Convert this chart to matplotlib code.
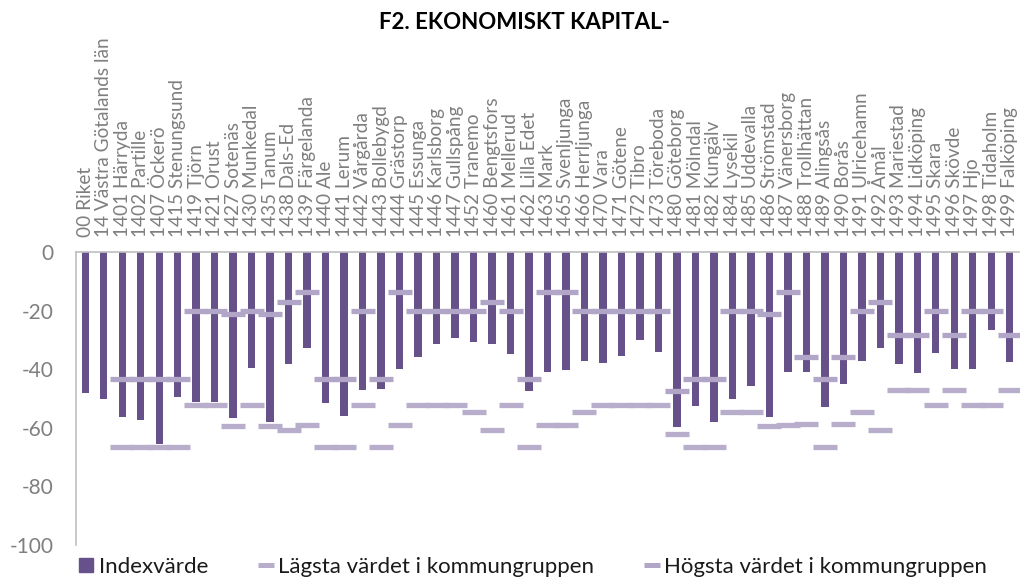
import matplotlib
matplotlib.use('Agg')
import matplotlib.pyplot as plt
from matplotlib.lines import Line2D
import numpy as np

plt.rcParams['font.family'] = ['Lato', 'DejaVu Sans']
plt.rcParams['axes.unicode_minus'] = False

kommuner = ['00 Riket', '14 Västra Götalands län', '1401 Härryda', '1402 Partille', '1407 Öckerö',
            '1415 Stenungsund', '1419 Tjörn', '1421 Orust', '1427 Sotenäs', '1430 Munkedal',
            '1435 Tanum', '1438 Dals-Ed', '1439 Färgelanda', '1440 Ale', '1441 Lerum',
            '1442 Vårgårda', '1443 Bollebygd', '1444 Grästorp', '1445 Essunga', '1446 Karlsborg',
            '1447 Gullspång', '1452 Tranemo', '1460 Bengtsfors', '1461 Mellerud', '1462 Lilla Edet',
            '1463 Mark', '1465 Svenljunga', '1466 Herrljunga', '1470 Vara', '1471 Götene',
            '1472 Tibro', '1473 Töreboda', '1480 Göteborg', '1481 Mölndal', '1482 Kungälv',
            '1484 Lysekil', '1485 Uddevalla', '1486 Strömstad', '1487 Vänersborg', '1488 Trollhättan',
            '1489 Alingsås', '1490 Borås', '1491 Ulricehamn', '1492 Åmål', '1493 Mariestad',
            '1494 Lidköping', '1495 Skara', '1496 Skövde', '1497 Hjo', '1498 Tidaholm',
            '1499 Falköping']

indexvarde = [-48, -50.2, -56.4, -57.2, -65.6, -49.4, -51.3, -51.3, -56.6, -39.7,
              -58.1, -38.2, -32.8, -51.5, -56, -47.2, -46.8, -39.8, -35.8, -31.4,
              -29.4, -30.7, -31.3, -34.8, -47.4, -41, -40.4, -37.1, -38, -35.6,
              -30.2, -34.1, -59.8, -52.4, -58, -50, -45.7, -56.2, -40.9, -40.9,
              -52.8, -44.9, -37.1, -32.9, -38.3, -41.3, -34.4, -40, -40.1, -26.6,
              -37.5]

lagsta = [np.nan, np.nan, -66.6, -66.6, -66.6, -66.6, -52.2, -52.2, -59.4, -52.2,
          -59.4, -60.7, -59.1, -66.6, -66.6, -52.2, -66.6, -59.1, -52.2, -52.2,
          -52.2, -54.7, -60.7, -52.2, -66.6, -59.1, -59.1, -54.7, -52.2, -52.2,
          -52.2, -52.2, -62, -66.6, -66.6, -54.7, -54.7, -59.4, -59.1, -58.8,
          -66.6, -58.8, -54.7, -60.7, -47.2, -47.2, -52.2, -47.2, -52.2, -52.2,
          -47.2]

hogsta = [np.nan, np.nan, -43.4, -43.4, -43.4, -43.4, -20.1, -20.1, -21.2, -20.1,
          -21.2, -16.9, -13.5, -43.4, -43.4, -20.1, -43.4, -13.5, -20.1, -20.1,
          -20.1, -20.1, -16.9, -20.1, -43.4, -13.5, -13.5, -20.1, -20.1, -20.1,
          -20.1, -20.1, -47.6, -43.4, -43.4, -20.1, -20.1, -21.2, -13.5, -35.8,
          -43.4, -35.8, -20.1, -16.9, -28.2, -28.2, -20.1, -28.2, -20.1, -20.1,
          -28.2]

bar_color = '#67518a'
low_color = '#b8aecb'
high_color = '#b2a6c8'
grey_text = '#7f7f7f'

fig = plt.figure(figsize=(10.21, 5.78), dpi=100)
ax = fig.add_axes([76 / 1021, 1 - 545 / 578, 943 / 1021, 293 / 578])

x = np.arange(len(kommuner))
ax.bar(x, indexvarde, width=0.4, color=bar_color, zorder=2)
ax.plot(x, lagsta, linestyle='none', marker='_', markersize=17, markeredgewidth=3.8,
        color=low_color, zorder=3)
ax.plot(x, hogsta, linestyle='none', marker='_', markersize=17, markeredgewidth=3.8,
        color=high_color, zorder=3)

ax.set_xlim(-0.5, len(kommuner) - 0.5)
ax.set_ylim(-100, 0)
ax.set_yticks(range(-100, 1, 20))
ax.tick_params(axis='y', length=0, labelsize=15, labelcolor=grey_text, pad=16)

ax.xaxis.tick_top()
ax.set_xticks(x)
ax.set_xticklabels(kommuner, rotation=90, fontsize=13.7, color=grey_text)
ax.tick_params(axis='x', length=0, pad=11)

for side in ['right', 'bottom']:
    ax.spines[side].set_visible(False)
for side in ['left', 'top']:
    ax.spines[side].set_color('#bfbfbf')
    ax.spines[side].set_linewidth(1.2)

fig.text(524 / 1021, 0.961, 'F2. EKONOMISKT KAPITAL-', ha='center', va='center',
         fontsize=16, fontweight='bold')

handles = [Line2D([], [], linestyle='none', marker='s', markersize=9.5, color=bar_color),
           Line2D([], [], linestyle='none', marker='_', markersize=12, markeredgewidth=3.6, color=low_color),
           Line2D([], [], linestyle='none', marker='_', markersize=12, markeredgewidth=3.6, color=high_color)]
labels = ['Indexvärde', 'Lägsta värdet i kommungruppen', 'Högsta värdet i kommungruppen']
fig.legend(handles, labels, loc='center left', bbox_to_anchor=(78 / 1021, 1 - 567 / 578), ncol=3,
           frameon=False, fontsize=16, handlelength=0.75, handletextpad=0.2, borderpad=0,
           borderaxespad=0, columnspacing=2.2, labelcolor='#1a1a1a')

fig.savefig('out.png', dpi=100)
